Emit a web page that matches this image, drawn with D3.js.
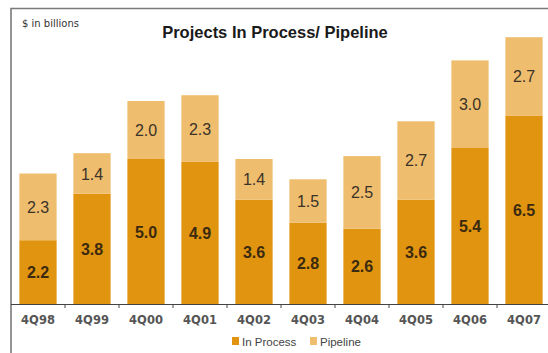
<!DOCTYPE html>
<html>
<head>
<meta charset="utf-8">
<script src="https://cdn.jsdelivr.net/npm/d3@7"></script>
<style>
  html, body { margin: 0; padding: 0; background: #fff; }
  svg { display: block; font-family: "Liberation Sans", Arial, sans-serif; }
</style>
</head>
<body>
<svg id="chart" width="548" height="353"></svg>
<script>
// Quarter-end totals, $ in billions
const quarters = ["4Q98", "4Q99", "4Q00", "4Q01", "4Q02", "4Q03", "4Q04", "4Q05", "4Q06", "4Q07"];
const inProcess = [2.2, 3.8, 5.0, 4.9, 3.6, 2.8, 2.6, 3.6, 5.4, 6.5];
const pipeline  = [2.3, 1.4, 2.0, 2.3, 1.4, 1.5, 2.5, 2.7, 3.0, 2.7];
const seriesNames = ["In Process", "Pipeline"];

const colors = { "In Process": "#E0940F", "Pipeline": "#EFBD6E" };

const svg = d3.select("#chart");

// Frame
svg.append("path")
  .attr("d", "M11,353 V8.5 H560")
  .attr("fill", "none")
  .attr("stroke", "#7a7a7a")
  .attr("stroke-width", 1.6);

const baseline = 304;
const x = d3.scaleBand().domain(quarters).range([11, 551]).paddingInner(0.31).paddingOuter(0.155);
const y = d3.scaleLinear().domain([0, 10]).range([baseline, baseline - 290]);

const rows = quarters.map((q, i) => ({ quarter: q, "In Process": inProcess[i], "Pipeline": pipeline[i] }));
const stacked = d3.stack().keys(seriesNames)(rows);

const layers = svg.append("g").selectAll("g")
  .data(stacked)
  .join("g")
  .attr("fill", d => colors[d.key]);

layers.selectAll("rect")
  .data(d => d)
  .join("rect")
  .attr("x", d => x(d.data.quarter))
  .attr("width", x.bandwidth())
  .attr("y", d => y(d[1]))
  .attr("height", d => y(d[0]) - y(d[1]));

// Value labels in the middle of each segment
stacked.forEach(layer => {
  svg.append("g").selectAll("text")
    .data(layer)
    .join("text")
    .attr("x", d => x(d.data.quarter) + x.bandwidth() / 2)
    .attr("y", d => (y(d[0]) + y(d[1])) / 2 + 6)
    .attr("text-anchor", "middle")
    .attr("font-size", 16)
    .attr("font-weight", layer.key === "In Process" ? "bold" : "normal")
    .attr("fill", layer.key === "In Process" ? "#3b2a10" : "#3a3328")
    .text(d => d3.format(".1f")(d.data[layer.key]));
});

// Category axis
const xAxis = d3.axisBottom(x).tickSize(0).tickPadding(12);
const axisG = svg.append("g").attr("transform", `translate(0,${baseline})`).call(xAxis);
axisG.select(".domain").attr("stroke", "#444").attr("stroke-width", 1.2).attr("d", "M11,0.5H551");
axisG.selectAll("text")
  .attr("font-size", 11.5)
  .attr("font-weight", "bold")
  .attr("fill", "#555")
  .attr("font-family", "DejaVu Sans, Verdana, sans-serif");

// Divider ticks between categories
const step = x.step();
axisG.selectAll("line.div")
  .data(quarters.slice(1))
  .join("line")
  .attr("class", "div")
  .attr("x1", d => x(d) - step * x.paddingInner() / 2)
  .attr("x2", d => x(d) - step * x.paddingInner() / 2)
  .attr("y1", 0)
  .attr("y2", 4)
  .attr("stroke", "#444")
  .attr("stroke-width", 1);

// Titles
svg.append("text")
  .attr("x", 22).attr("y", 27)
  .attr("font-size", 10)
  .attr("font-family", "DejaVu Sans, Verdana, sans-serif")
  .attr("fill", "#333")
  .text("$ in billions");

svg.append("text")
  .attr("x", 275).attr("y", 38)
  .attr("text-anchor", "middle")
  .attr("font-size", 16.5)
  .attr("font-weight", "bold")
  .attr("fill", "#1a1a1a")
  .text("Projects In Process/ Pipeline");

// Legend
const legendPos = [232, 310];
const legend = svg.append("g").selectAll("g")
  .data(seriesNames)
  .join("g")
  .attr("transform", (d, i) => `translate(${legendPos[i]},337)`);
legend.append("rect")
  .attr("width", 7).attr("height", 8)
  .attr("fill", d => colors[d]);
legend.append("text")
  .attr("x", 10).attr("y", 8.5)
  .attr("font-size", 11.5)
  .attr("fill", "#444")
  .text(d => d);
</script>
</body>
</html>
